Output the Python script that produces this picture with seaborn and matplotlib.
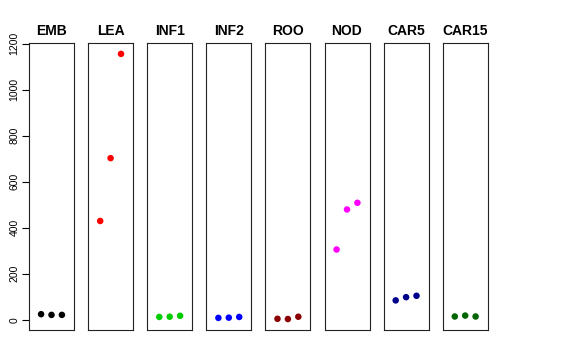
import numpy as np
import pandas as pd
import seaborn as sns
import matplotlib.pyplot as plt

# tissues and values (3 replicates each)
tissues = ['EMB', 'LEA', 'INF1', 'INF2', 'ROO', 'NOD', 'CAR5', 'CAR15']
rep = [1, 2, 3]
emb = [24, 21, 21]
lea = [429, 702, 1155]
inf1 = [12, 13, 17]
inf2 = [8, 9, 12]
roo = [4, 3, 13]
nod = [305, 479, 508]
car5 = [84, 98, 104]
car15 = [14, 18, 14]
colors = ['black', 'red', '#00CD00', 'blue', '#8B0000', 'magenta', '#00008B', '#006400']

values = [emb, lea, inf1, inf2, roo, nod, car5, car15]
df = pd.DataFrame({
    'tissue': np.repeat(tissues, 3),
    'rep': rep * len(tissues),
    'value': np.concatenate(values),
})

sns.set_style('white')
plt.rcParams['font.family'] = ['Liberation Sans', 'DejaVu Sans']
plt.rcParams['text.color'] = 'black'
plt.rcParams['ytick.color'] = 'black'
plt.rcParams['ytick.labelcolor'] = 'black'

fig = plt.figure(figsize=(5.76, 3.6), dpi=100)

# panel geometry in pixels
left0, step, width = 29, 59.1, 45
bottom, top = 360 - 330.3, 360 - 43.3

for i, (t, c) in enumerate(zip(tissues, colors)):
    ax = fig.add_axes([(left0 + i * step) / 576, bottom / 360,
                       width / 576, (top - bottom) / 360])
    sns.scatterplot(data=df[df['tissue'] == t], x='rep', y='value', color=c,
                    s=22, edgecolor='none', ax=ax)
    ax.set_xlim(-0.16, 4.16)
    ax.set_ylim(-46, 1201)
    ax.set_title(t, fontsize=10, fontweight='bold', pad=6, color='black')
    ax.set_xlabel('')
    ax.set_ylabel('')
    ax.set_xticks([])
    for sp in ax.spines.values():
        sp.set_visible(True)
        sp.set_color('#222222')
        sp.set_linewidth(0.8)
    if i == 0:
        ax.set_yticks(range(0, 1201, 200))
        ax.tick_params(axis='y', left=True, length=5, width=0.8, labelsize=7.5,
                       labelrotation=90, pad=2, colors='black')
        for lab in ax.get_yticklabels():
            lab.set_va('center')
    else:
        ax.set_yticks([])

fig.savefig('out.png', dpi=100)
